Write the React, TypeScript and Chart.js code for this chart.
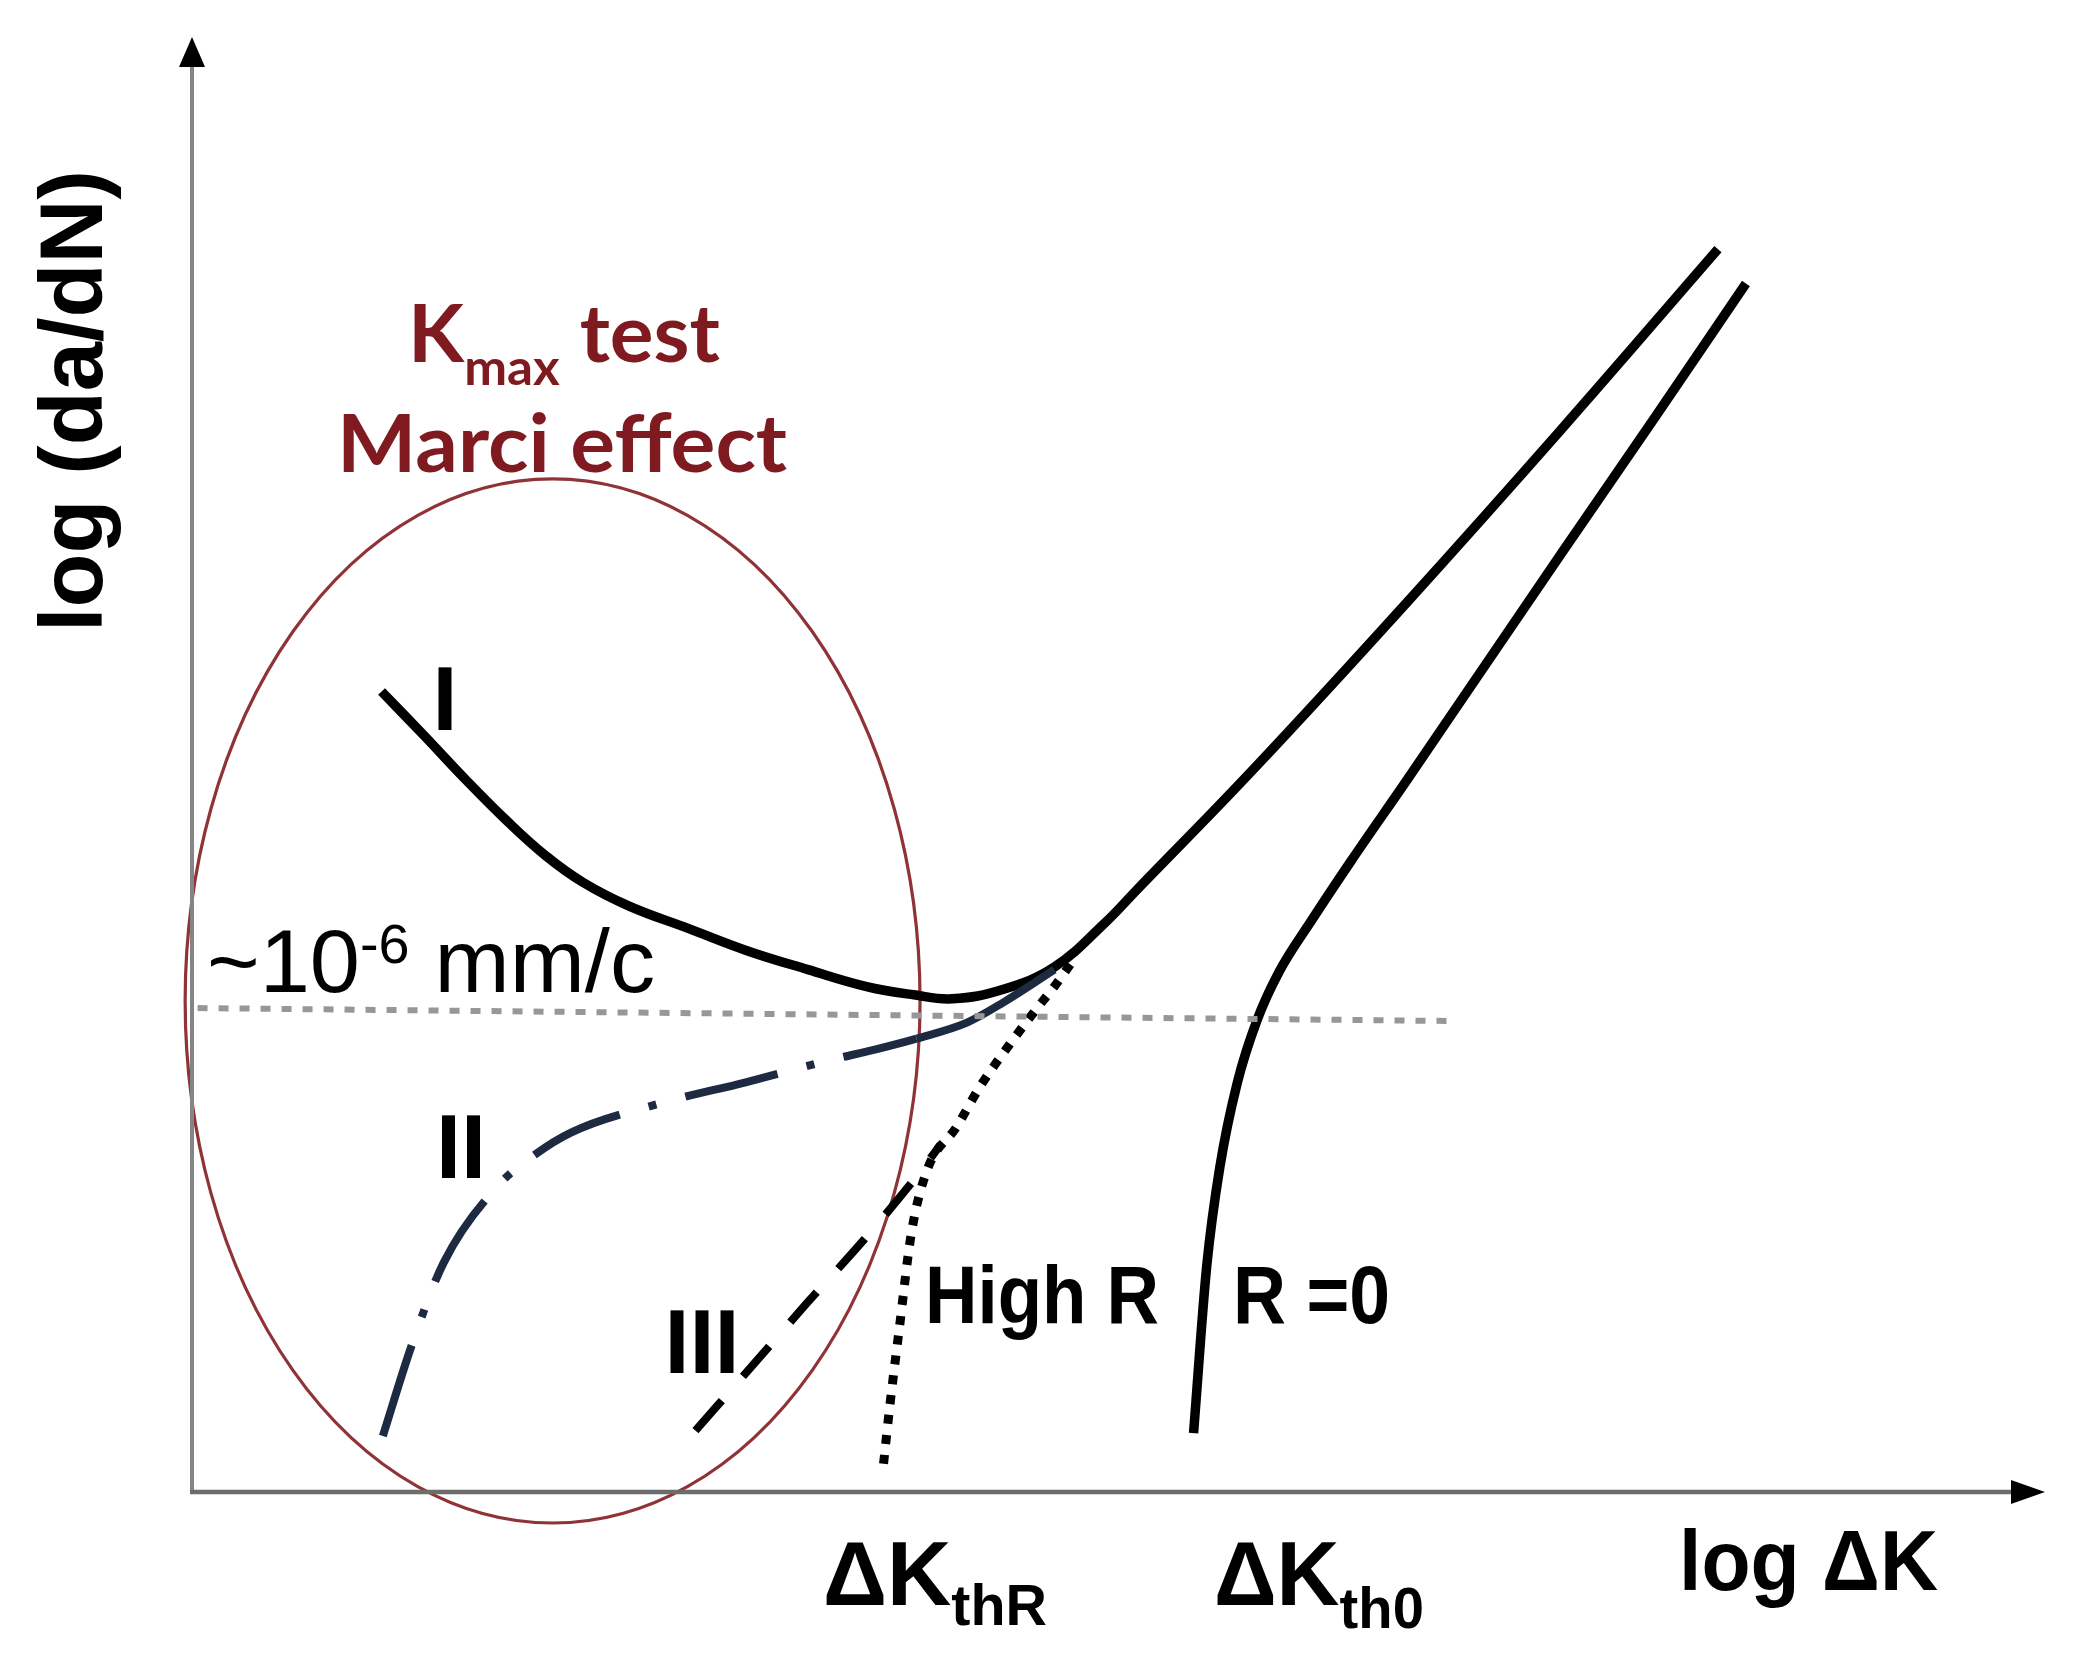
import React, { useEffect, useRef } from "react";
import { Chart, registerables } from "chart.js";

Chart.register(...registerables);

const W = 2077;
const H = 1666;

// Schematic units: axis origin = (0,0), axis arrow tips = 100.
// Curve I / upper curve (Kmax test, high R) – log dK vs log da/dN
const upperX = [10.23, 12.51, 14.8, 17.09, 19.09, 21.09, 23.59, 26.81, 30.03, 33.25, 36.46, 38.96, 41.03, 43.75, 46.54, 49.25, 50.97, 57.33, 65.55, 73.84, 82.35];
const upperY = [55.02, 52.01, 48.92, 46.01, 43.73, 41.91, 40.27, 38.72, 37.17, 35.9, 34.72, 34.17, 33.9, 34.53, 36.08, 39.09, 41.36, 49.74, 61.12, 72.95, 85.42];

// R = 0 curve
const r0X = [54.05, 54.76, 55.47, 56.4, 57.48, 58.69, 60.41, 62.55, 65.56, 69.7, 73.99, 79.0, 83.86];
const r0Y = [4.04, 15.51, 22.33, 28.07, 32.44, 35.81, 39.27, 43.37, 48.92, 56.66, 64.67, 73.95, 83.06];

// Curve II (dash-dot, then solid near the threshold)
const c2X = [10.3, 11.87, 13.59, 16.52, 18.37, 20.45, 25.24, 29.88, 34.53, 36.96, 39.1, 41.82, 43.75, 46.54];
const c2Y = [3.85, 10.13, 15.78, 21.06, 23.06, 24.7, 26.7, 28.16, 29.71, 30.44, 31.16, 32.26, 33.62, 35.9];
const c2SolidFrom = 10;

// Curve III (dashed)
const c3X = [27.17, 30.24, 33.17, 36.32, 39.39, 40.39];
const c3Y = [4.22, 8.68, 12.96, 17.42, 22.15, 23.88];

// High R curve (dotted)
const hrX = [37.32, 37.67, 38.17, 38.82, 39.68, 41.25, 42.54, 44.04, 45.61, 46.47, 47.4];
const hrY = [1.94, 6.04, 11.23, 17.78, 22.15, 25.07, 27.89, 30.62, 33.26, 34.63, 36.26];

// ~1e-6 mm/cycle reference level
const refX = [0.3, 68.05];
const refY = [33.26, 32.37];

// Ellipse (region of Kmax test / Marci effect): centre and radii
const ellipseCenter = [19.46, 33.75];
const ellipseRadii = [19.83, 35.88];

const pts = (xs: number[], ys: number[]) => xs.map((x, i) => ({ x, y: ys[i] }));

type Seg = { t: string; size: number; dy?: number };
type Label = {
  segs: Seg[];
  x: number;
  y: number;
  align: "left" | "center";
  family: string;
  weight: string;
  color: string;
  width?: number;
  rotate?: boolean;
};

const ARIAL = "'Liberation Sans', Arial, sans-serif";
const CAL = "Lato, 'Open Sans', sans-serif";
const RED = "#7f1a20";

const LABELS: Label[] = [
  { segs: [{ t: "log (da/dN)", size: 89 }], x: -4.86, y: 74.98, align: "center", family: ARIAL, weight: "bold", color: "#000", width: 462, rotate: true },
  { segs: [{ t: "K", size: 80 }, { t: "max", size: 50, dy: 23 }, { t: " test", size: 80 }], x: 11.66, y: 77.66, align: "left", family: CAL, weight: "bold", color: RED, width: 312 },
  { segs: [{ t: "Marci effect", size: 80 }], x: 7.83, y: 70.1, align: "left", family: CAL, weight: "bold", color: RED, width: 450 },
  { segs: [{ t: "~10", size: 89 }, { t: "-6", size: 55, dy: -29 }, { t: " mm/c", size: 89 }], x: 0.81, y: 34.36, align: "left", family: ARIAL, weight: "normal", color: "#000", width: 448 },
  { segs: [{ t: "I", size: 90 }], x: 13.65, y: 52.37, align: "center", family: ARIAL, weight: "bold", color: "#000" },
  { segs: [{ t: "II", size: 90 }], x: 14.52, y: 21.58, align: "center", family: ARIAL, weight: "bold", color: "#000" },
  { segs: [{ t: "III", size: 90 }], x: 27.52, y: 8.18, align: "center", family: ARIAL, weight: "bold", color: "#000" },
  { segs: [{ t: "High R", size: 82 }], x: 39.56, y: 11.62, align: "left", family: ARIAL, weight: "bold", color: "#000", width: 234 },
  { segs: [{ t: "R =0", size: 82 }], x: 56.18, y: 11.62, align: "left", family: ARIAL, weight: "bold", color: "#000", width: 157 },
  { segs: [{ t: "ΔK", size: 90 }, { t: "thR", size: 58, dy: 20 }], x: 34.05, y: -7.77, align: "left", family: ARIAL, weight: "bold", color: "#000", width: 224 },
  { segs: [{ t: "ΔK", size: 90 }, { t: "th0", size: 58, dy: 23 }], x: 55.15, y: -7.77, align: "left", family: ARIAL, weight: "bold", color: "#000", width: 210 },
  { segs: [{ t: "log ΔK", size: 86 }], x: 80.25, y: -6.74, align: "left", family: ARIAL, weight: "bold", color: "#000", width: 259 },
];

function drawRich(ctx: CanvasRenderingContext2D, l: Label, px: number, py: number) {
  ctx.save();
  ctx.fillStyle = l.color;
  ctx.textBaseline = "alphabetic";
  ctx.textAlign = "left";
  let total = 0;
  const widths = l.segs.map((s) => {
    ctx.font = `${l.weight} ${s.size}px ${l.family}`;
    const w = ctx.measureText(s.t).width;
    total += w;
    return w;
  });
  const sx = l.width ? l.width / total : 1;
  ctx.translate(px, py);
  if (l.rotate) ctx.rotate(-Math.PI / 2);
  const start = l.align === "center" ? (-total * sx) / 2 : 0;
  ctx.translate(start, 0);
  ctx.scale(sx, 1);
  let cx = 0;
  l.segs.forEach((s, i) => {
    ctx.font = `${l.weight} ${s.size}px ${l.family}`;
    ctx.fillText(s.t, cx, s.dy || 0);
    cx += widths[i];
  });
  ctx.restore();
}

const ellipsePlugin = {
  id: "ellipse",
  beforeDatasetsDraw(chart: any) {
    const { ctx, scales } = chart;
    const xs = scales.x;
    const ys = scales.y;
    const cx = xs.getPixelForValue(ellipseCenter[0]);
    const cy = ys.getPixelForValue(ellipseCenter[1]);
    const rx = xs.getPixelForValue(ellipseCenter[0] + ellipseRadii[0]) - cx;
    const ry = cy - ys.getPixelForValue(ellipseCenter[1] + ellipseRadii[1]);
    ctx.save();
    ctx.strokeStyle = "#8f3337";
    ctx.lineWidth = 3.2;
    ctx.beginPath();
    ctx.ellipse(cx, cy, rx, ry, 0, 0, Math.PI * 2);
    ctx.stroke();
    ctx.restore();
  },
};

const overlayPlugin = {
  id: "overlay",
  afterDraw(chart: any) {
    const { ctx, chartArea, scales } = chart;
    const { left, right, top, bottom } = chartArea;
    ctx.save();
    // y axis
    ctx.strokeStyle = "#858585";
    ctx.lineWidth = 4;
    ctx.beginPath();
    ctx.moveTo(left, bottom + 2);
    ctx.lineTo(left, top + 26);
    ctx.stroke();
    // x axis
    ctx.strokeStyle = "#6c6c6c";
    ctx.lineWidth = 4.5;
    ctx.beginPath();
    ctx.moveTo(left - 2, bottom);
    ctx.lineTo(right - 30, bottom);
    ctx.stroke();
    // arrowheads
    ctx.fillStyle = "#000";
    ctx.beginPath();
    ctx.moveTo(left, top);
    ctx.lineTo(left - 13, top + 30);
    ctx.lineTo(left + 13, top + 30);
    ctx.closePath();
    ctx.fill();
    ctx.beginPath();
    ctx.moveTo(right, bottom);
    ctx.lineTo(right - 34, bottom - 12);
    ctx.lineTo(right - 34, bottom + 12);
    ctx.closePath();
    ctx.fill();
    ctx.restore();
    LABELS.forEach((l) => {
      drawRich(ctx, l, scales.x.getPixelForValue(l.x), scales.y.getPixelForValue(l.y));
    });
  },
};

export default function App() {
  const ref = useRef<HTMLCanvasElement | null>(null);
  useEffect(() => {
    if (!ref.current) return;
    const base = { showLine: true, pointRadius: 0, pointHoverRadius: 0, clip: false as any, cubicInterpolationMode: "monotone" };
    const chart = new Chart(ref.current, {
      type: "scatter",
      data: {
        datasets: [
          { ...base, data: pts(refX, refY), borderColor: "#979797", borderWidth: 6, borderDash: [10, 11], cubicInterpolationMode: "default", tension: 0 },
          {
            ...base,
            data: pts(c2X, c2Y),
            borderColor: "#1d2a42",
            borderWidth: 8,
            segment: { borderDash: (c: any) => (c.p0DataIndex < c2SolidFrom ? [95, 30, 8, 30] : undefined) },
          },
          { ...base, data: pts(c3X, c3Y), borderColor: "#000", borderWidth: 8, borderDash: [40, 32] },
          { ...base, data: pts(hrX, hrY), borderColor: "#000", borderWidth: 9, borderDash: [9, 11] },
          { ...base, data: pts(upperX, upperY), borderColor: "#000", borderWidth: 9.5, cubicInterpolationMode: "default", tension: 0.4 },
          { ...base, data: pts(r0X, r0Y), borderColor: "#000", borderWidth: 9.5 },
        ] as any,
      },
      options: {
        responsive: false,
        animation: false,
        devicePixelRatio: 1,
        events: [],
        layout: { padding: { left: 192, right: 32, top: 37, bottom: 174 } },
        scales: {
          x: { type: "linear", min: 0, max: 100, display: false },
          y: { type: "linear", min: 0, max: 100, display: false },
        },
        plugins: { legend: { display: false }, tooltip: { enabled: false } },
      },
      plugins: [ellipsePlugin, overlayPlugin],
    });
    const fonts = (document as any).fonts;
    if (fonts && fonts.load) {
      Promise.all([
        fonts.load("bold 80px Lato"),
        fonts.load("bold 80px 'Liberation Sans'"),
        fonts.load("80px 'Liberation Sans'"),
      ]).then(() => {
        try {
          chart.draw();
        } catch (e) {}
      });
    }
    return () => chart.destroy();
  }, []);
  return (
    <div style={{ position: "absolute", left: 0, top: 0, width: W, height: H, background: "#fff" }}>
      <canvas ref={ref} width={W} height={H} style={{ display: "block", width: W, height: H }} />
    </div>
  );
}
